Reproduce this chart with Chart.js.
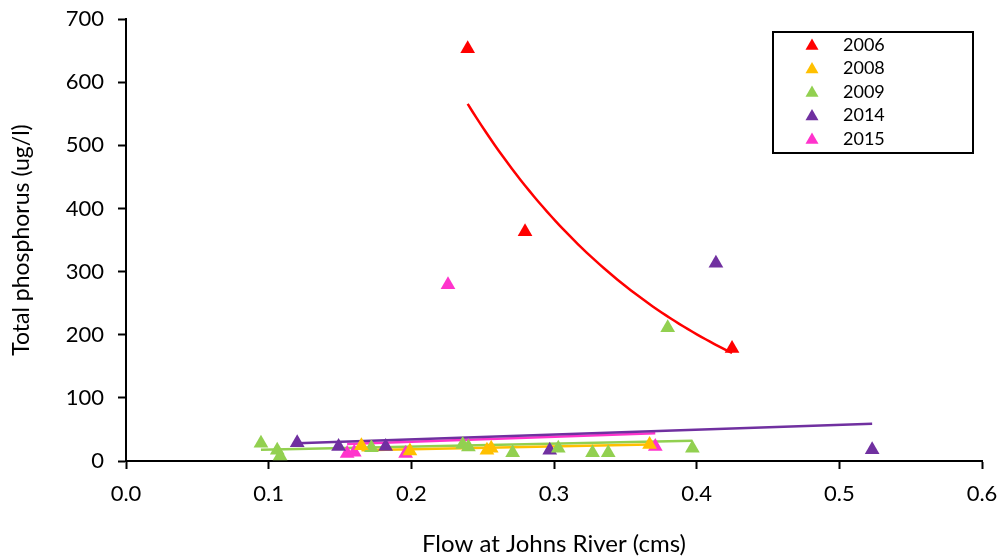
<!DOCTYPE html>
<html>
<head>
<meta charset="utf-8">
<script src="https://cdn.jsdelivr.net/npm/chart.js@4/dist/chart.umd.min.js"></script>
<style>
  html, body { margin: 0; padding: 0; background: #fff; }
  canvas { display: block; }
</style>
</head>
<body>
<canvas id="flowChart" width="1004" height="560"></canvas>
<script>
// values
const years = ['2006', '2008', '2009', '2014', '2015'];
const colors = ['#FF0000', '#FFC000', '#92D050', '#7030A0', '#FF33CC'];

const flow2006 = [0.2395, 0.2797, 0.4248];
const tp2006 = [653, 363, 178];

const flow2008 = [0.165, 0.199, 0.253, 0.256, 0.367];
const tp2008 = [24, 16, 17, 20, 26];

const flow2009 = [0.0946, 0.106, 0.108, 0.172, 0.236, 0.240, 0.271, 0.303, 0.327, 0.338, 0.3797, 0.397];
const tp2009 = [28, 17, 8, 21, 26, 22, 13, 20, 13, 13, 211, 20];

const flow2014 = [0.120, 0.149, 0.182, 0.297, 0.4135, 0.523];
const tp2014 = [29, 23, 23, 17, 313, 18];

const flow2015 = [0.155, 0.160, 0.196, 0.2257, 0.371];
const tp2015 = [12, 14, 12, 279, 23];

// linear trend line ends as drawn in the picture
const trend2008X = [0.165, 0.367];
const trend2008Y = [17, 26];
const trend2009X = [0.0946, 0.397];
const trend2009Y = [18, 32];
const trend2014X = [0.120, 0.523];
const trend2014Y = [28, 59];
const trend2015X = [0.155, 0.371];
const trend2015Y = [27, 44];

const xTicks = [0, 0.1, 0.2, 0.3, 0.4, 0.5, 0.6];
const yTicks = [0, 100, 200, 300, 400, 500, 600, 700];

const FONT = 'Lato, "Open Sans", sans-serif';

function toPoints(xs, ys) {
    return xs.map((x, i) => ({ x: x, y: ys[i] }));
}

// exponential trend (least squares on ln y), like the spreadsheet one
function expTrend(xs, ys, steps) {
    const n = xs.length;
    const lny = ys.map(v => Math.log(v));
    const mx = xs.reduce((a, b) => a + b, 0) / n;
    const my = lny.reduce((a, b) => a + b, 0) / n;
    let sxy = 0, sxx = 0;
    xs.forEach((x, i) => {
        sxy += (x - mx) * (lny[i] - my);
        sxx += (x - mx) * (x - mx);
    });
    const k = sxy / sxx;
    const b = my - k * mx;
    const x0 = Math.min(...xs), x1 = Math.max(...xs);
    const pts = [];
    for (let i = 0; i <= steps; i++) {
        const x = x0 + (x1 - x0) * i / steps;
        pts.push({ x: x, y: Math.exp(b + k * x) });
    }
    return pts;
}

const scatterSets = [
    [flow2006, tp2006],
    [flow2008, tp2008],
    [flow2009, tp2009],
    [flow2014, tp2014],
    [flow2015, tp2015]
].map(([xs, ys], i) => ({
    type: 'scatter',
    label: years[i],
    data: toPoints(xs, ys),
    pointStyle: 'triangle',
    pointRadius: 8.5,
    pointHoverRadius: 8.5,
    backgroundColor: colors[i],
    borderColor: colors[i],
    borderWidth: 0,
    clip: false
}));

function trendSet(points, color) {
    return {
        type: 'line',
        label: '',
        data: points,
        borderColor: color,
        borderWidth: 2.5,
        pointRadius: 0,
        fill: false,
        tension: 0
    };
}

const trendSets = [
    trendSet(expTrend(flow2006, tp2006, 60), colors[0]),
    trendSet(toPoints(trend2008X, trend2008Y), colors[1]),
    trendSet(toPoints(trend2009X, trend2009Y), colors[2]),
    trendSet(toPoints(trend2014X, trend2014Y), colors[3]),
    trendSet(toPoints(trend2015X, trend2015Y), colors[4])
];

// boxed legend inside the plot, top right
const boxLegend = {
    id: 'boxLegend',
    afterDraw(chart) {
        const ctx = chart.ctx;
        const left = 773, top = 32, width = 200, height = 121;
        ctx.save();
        ctx.fillStyle = '#fff';
        ctx.fillRect(left, top, width, height);
        ctx.lineWidth = 2;
        ctx.strokeStyle = '#000';
        ctx.strokeRect(left, top, width, height);
        ctx.font = '18px ' + FONT;
        ctx.textBaseline = 'middle';
        ctx.textAlign = 'left';
        years.forEach((label, i) => {
            const y = 45 + i * 23.5;
            ctx.fillStyle = colors[i];
            Chart.helpers.drawPoint(ctx, { pointStyle: 'triangle', radius: 7.5, borderWidth: 0 }, 812, y + 1);
            ctx.fillStyle = '#000';
            ctx.fillText(label, 843, y);
        });
        ctx.restore();
    }
};

// drop the label overflow padding so the layout padding sets the plot box
function noOverflow(scale) {
    scale.paddingTop = 0;
    scale.paddingBottom = 0;
    scale.paddingLeft = 0;
    scale.paddingRight = 0;
}

new Chart(document.getElementById('flowChart'), {
    type: 'scatter',
    data: { datasets: scatterSets.concat(trendSets) },
    options: {
        responsive: false,
        animation: false,
        layout: { padding: { top: 19, right: 22, left: 0, bottom: 0 } },
        plugins: {
            legend: { display: false },
            tooltip: { enabled: false }
        },
        scales: {
            x: {
                type: 'linear',
                min: 0,
                max: 0.6,
                afterBuildTicks: scale => { scale.ticks = xTicks.map(v => ({ value: v })); },
                afterFit: scale => { scale.height = 99; noOverflow(scale); },
                border: { display: true, color: '#000', width: 2 },
                grid: { display: true, drawOnChartArea: false, drawTicks: true, tickLength: 8, tickColor: '#000', tickWidth: 2 },
                ticks: {
                    color: '#000',
                    padding: 12,
                    font: { family: FONT, size: 22 },
                    callback: v => v.toFixed(1)
                },
                title: {
                    display: true,
                    text: 'Flow at Johns River (cms)',
                    color: '#000',
                    font: { family: FONT, size: 24 },
                    padding: { top: 0, bottom: 1 }
                }
            },
            y: {
                type: 'linear',
                min: 0,
                max: 700,
                afterBuildTicks: scale => { scale.ticks = yTicks.map(v => ({ value: v })); },
                afterFit: scale => { scale.width = 126; noOverflow(scale); },
                border: { display: true, color: '#000', width: 2 },
                grid: { display: true, drawOnChartArea: false, drawTicks: true, tickLength: 8, tickColor: '#000', tickWidth: 2 },
                ticks: {
                    color: '#000',
                    padding: 14,
                    font: { family: FONT, size: 22 }
                },
                title: {
                    display: true,
                    text: 'Total phosphorus (ug/l)',
                    color: '#000',
                    font: { family: FONT, size: 23 },
                    padding: { top: 8, bottom: 0 }
                }
            }
        }
    },
    plugins: [boxLegend]
});
</script>
</body>
</html>
